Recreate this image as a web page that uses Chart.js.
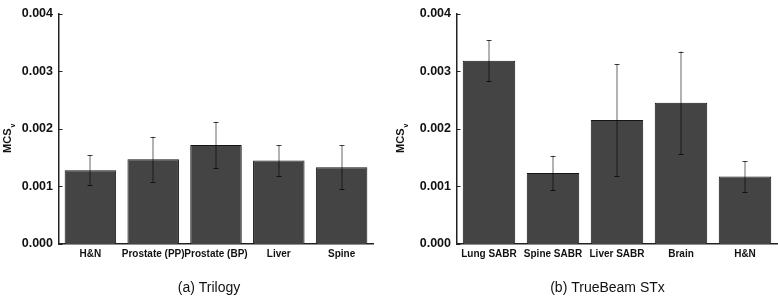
<!DOCTYPE html>
<html>
<head>
<meta charset="utf-8">
<script src="https://cdn.jsdelivr.net/npm/chart.js@4/dist/chart.umd.min.js"></script>
<style>
  html, body { margin: 0; padding: 0; background: #fff; }
  #wrap { position: relative; width: 778px; height: 296px; }
  canvas { position: absolute; top: 0; }
</style>
</head>
<body>
<div id="wrap">
  <canvas id="c1" width="390" height="296" style="left:0"></canvas>
  <canvas id="c2" width="388" height="296" style="left:390px"></canvas>
</div>
<script>
// ---- Data ----
const trilogyCategories = ['H&N', 'Prostate (PP)', 'Prostate (BP)', 'Liver', 'Spine'];
const trilogyMeans = [0.00128, 0.00147, 0.00172, 0.00145, 0.00133];
const trilogyErrors = [0.00026, 0.00039, 0.00040, 0.000265, 0.00038];

const truebeamCategories = ['Lung SABR', 'Spine SABR', 'Liver SABR', 'Brain', 'H&N'];
const truebeamMeans = [0.00318, 0.00123, 0.00215, 0.00245, 0.00117];
const truebeamErrors = [0.00036, 0.00030, 0.00097, 0.00089, 0.00027];

const yTickLabels = ['0.000', '0.001', '0.002', '0.003', '0.004'];
const yTickValues = [0, 0.001, 0.002, 0.003, 0.004];

const panelTitles = ['(a) Trilogy', '(b) TrueBeam STx'];
const yAxisTitle = 'MCS';
const yAxisSub = 'v';

const FONT = '"Liberation Sans", Arial, sans-serif';

// Plugin: error bars, inward y ticks, y-axis title with subscript, panel title
const decorPlugin = {
  id: 'decor',
  afterDatasetsDraw(chart, args, opts) {
    const ctx = chart.ctx;
    const meta = chart.getDatasetMeta(0);
    const ys = chart.scales.y;
    const means = chart.data.datasets[0].data;
    const errs = opts.errors;
    ctx.save();
    meta.data.forEach((bar, i) => {
      const x = Math.round(bar.x);
      const top = ys.getPixelForValue(means[i] + errs[i]);
      const bot = ys.getPixelForValue(means[i] - errs[i]);
      ctx.strokeStyle = 'rgba(0,0,0,0.6)';
      ctx.lineWidth = 1;
      ctx.beginPath();
      ctx.moveTo(x, top);
      ctx.lineTo(x, bot);
      ctx.stroke();
      ctx.strokeStyle = 'rgba(0,0,0,0.75)';
      ctx.beginPath();
      ctx.moveTo(x - 2.5, Math.round(top) + 0.5);
      ctx.lineTo(x + 2.5, Math.round(top) + 0.5);
      ctx.moveTo(x - 2.5, Math.round(bot) + 0.5);
      ctx.lineTo(x + 2.5, Math.round(bot) + 0.5);
      ctx.stroke();
    });
    ctx.restore();
  },
  afterDraw(chart, args, opts) {
    const ctx = chart.ctx;
    const ys = chart.scales.y;
    const area = chart.chartArea;
    ctx.save();
    // inward ticks
    ctx.strokeStyle = '#222';
    ctx.lineWidth = 1;
    yTickValues.forEach(v => {
      const y = Math.round(ys.getPixelForValue(v)) + 0.5;
      ctx.beginPath();
      ctx.moveTo(area.left, y);
      ctx.lineTo(area.left + 3.5, y);
      ctx.stroke();
    });
    // y-axis title (rotated) with subscript
    ctx.fillStyle = '#111';
    ctx.translate(opts.yTitleX, (area.top + area.bottom) / 2 + 12);
    ctx.rotate(-Math.PI / 2);
    ctx.font = 'bold 11px ' + FONT;
    ctx.textBaseline = 'middle';
    const w = ctx.measureText(yAxisTitle).width;
    ctx.textAlign = 'left';
    ctx.fillText(yAxisTitle, -w / 2, 0);
    ctx.font = 'bold 7px ' + FONT;
    ctx.fillText(yAxisSub, w / 2 + 1, 5);
    ctx.setTransform(1, 0, 0, 1, 0, 0);
    // panel title
    ctx.font = '14px ' + FONT;
    ctx.fillStyle = '#111';
    ctx.textAlign = 'center';
    ctx.textBaseline = 'middle';
    ctx.fillText(opts.title, (area.left + area.right) / 2 + opts.titleDx, 288);
    ctx.restore();
  }
};

function makeChart(id, cats, means, errs, title, yWidth, padRight, yTitleX, titleDx) {
  return new Chart(document.getElementById(id), {
    type: 'bar',
    data: {
      labels: cats,
      datasets: [{
        data: means,
        backgroundColor: '#444444',
        borderColor: '#151515',
        borderWidth: 1,
        barPercentage: 0.82,
        categoryPercentage: 1.0
      }]
    },
    options: {
      responsive: false,
      animation: false,
      devicePixelRatio: 1,
      layout: { padding: { top: 7, right: padRight, bottom: 30, left: 0 } },
      plugins: {
        legend: { display: false },
        tooltip: { enabled: false },
        decor: { errors: errs, title: title, yTitleX: yTitleX, titleDx: titleDx }
      },
      scales: {
        x: {
          grid: { display: false, drawTicks: false },
          border: { display: true, color: '#222', width: 1.5 },
          ticks: {
            color: '#111',
            font: { family: FONT, size: 10, weight: 'bold' },
            padding: 4,
            autoSkip: false,
            maxRotation: 0,
            minRotation: 0
          },
          afterFit(scale) { scale.height = 22; }
        },
        y: {
          min: 0,
          max: 0.004,
          grid: { display: false, drawTicks: false },
          border: { display: true, color: '#222', width: 1.5 },
          afterBuildTicks(scale) {
            scale.ticks = yTickValues.map(v => ({ value: v }));
          },
          ticks: {
            color: '#111',
            font: { family: FONT, size: 12.5, weight: 'bold' },
            padding: 6,
            callback: (v, i) => yTickLabels[i]
          },
          afterFit(scale) { scale.width = yWidth; }
        }
      }
    },
    plugins: [decorPlugin]
  });
}

makeChart('c1', trilogyCategories, trilogyMeans, trilogyErrors, panelTitles[0], 59, 17, 8, -7);
makeChart('c2', truebeamCategories, truebeamMeans, truebeamErrors, panelTitles[1], 67, 1, 11, -9.5);
</script>
</body>
</html>
